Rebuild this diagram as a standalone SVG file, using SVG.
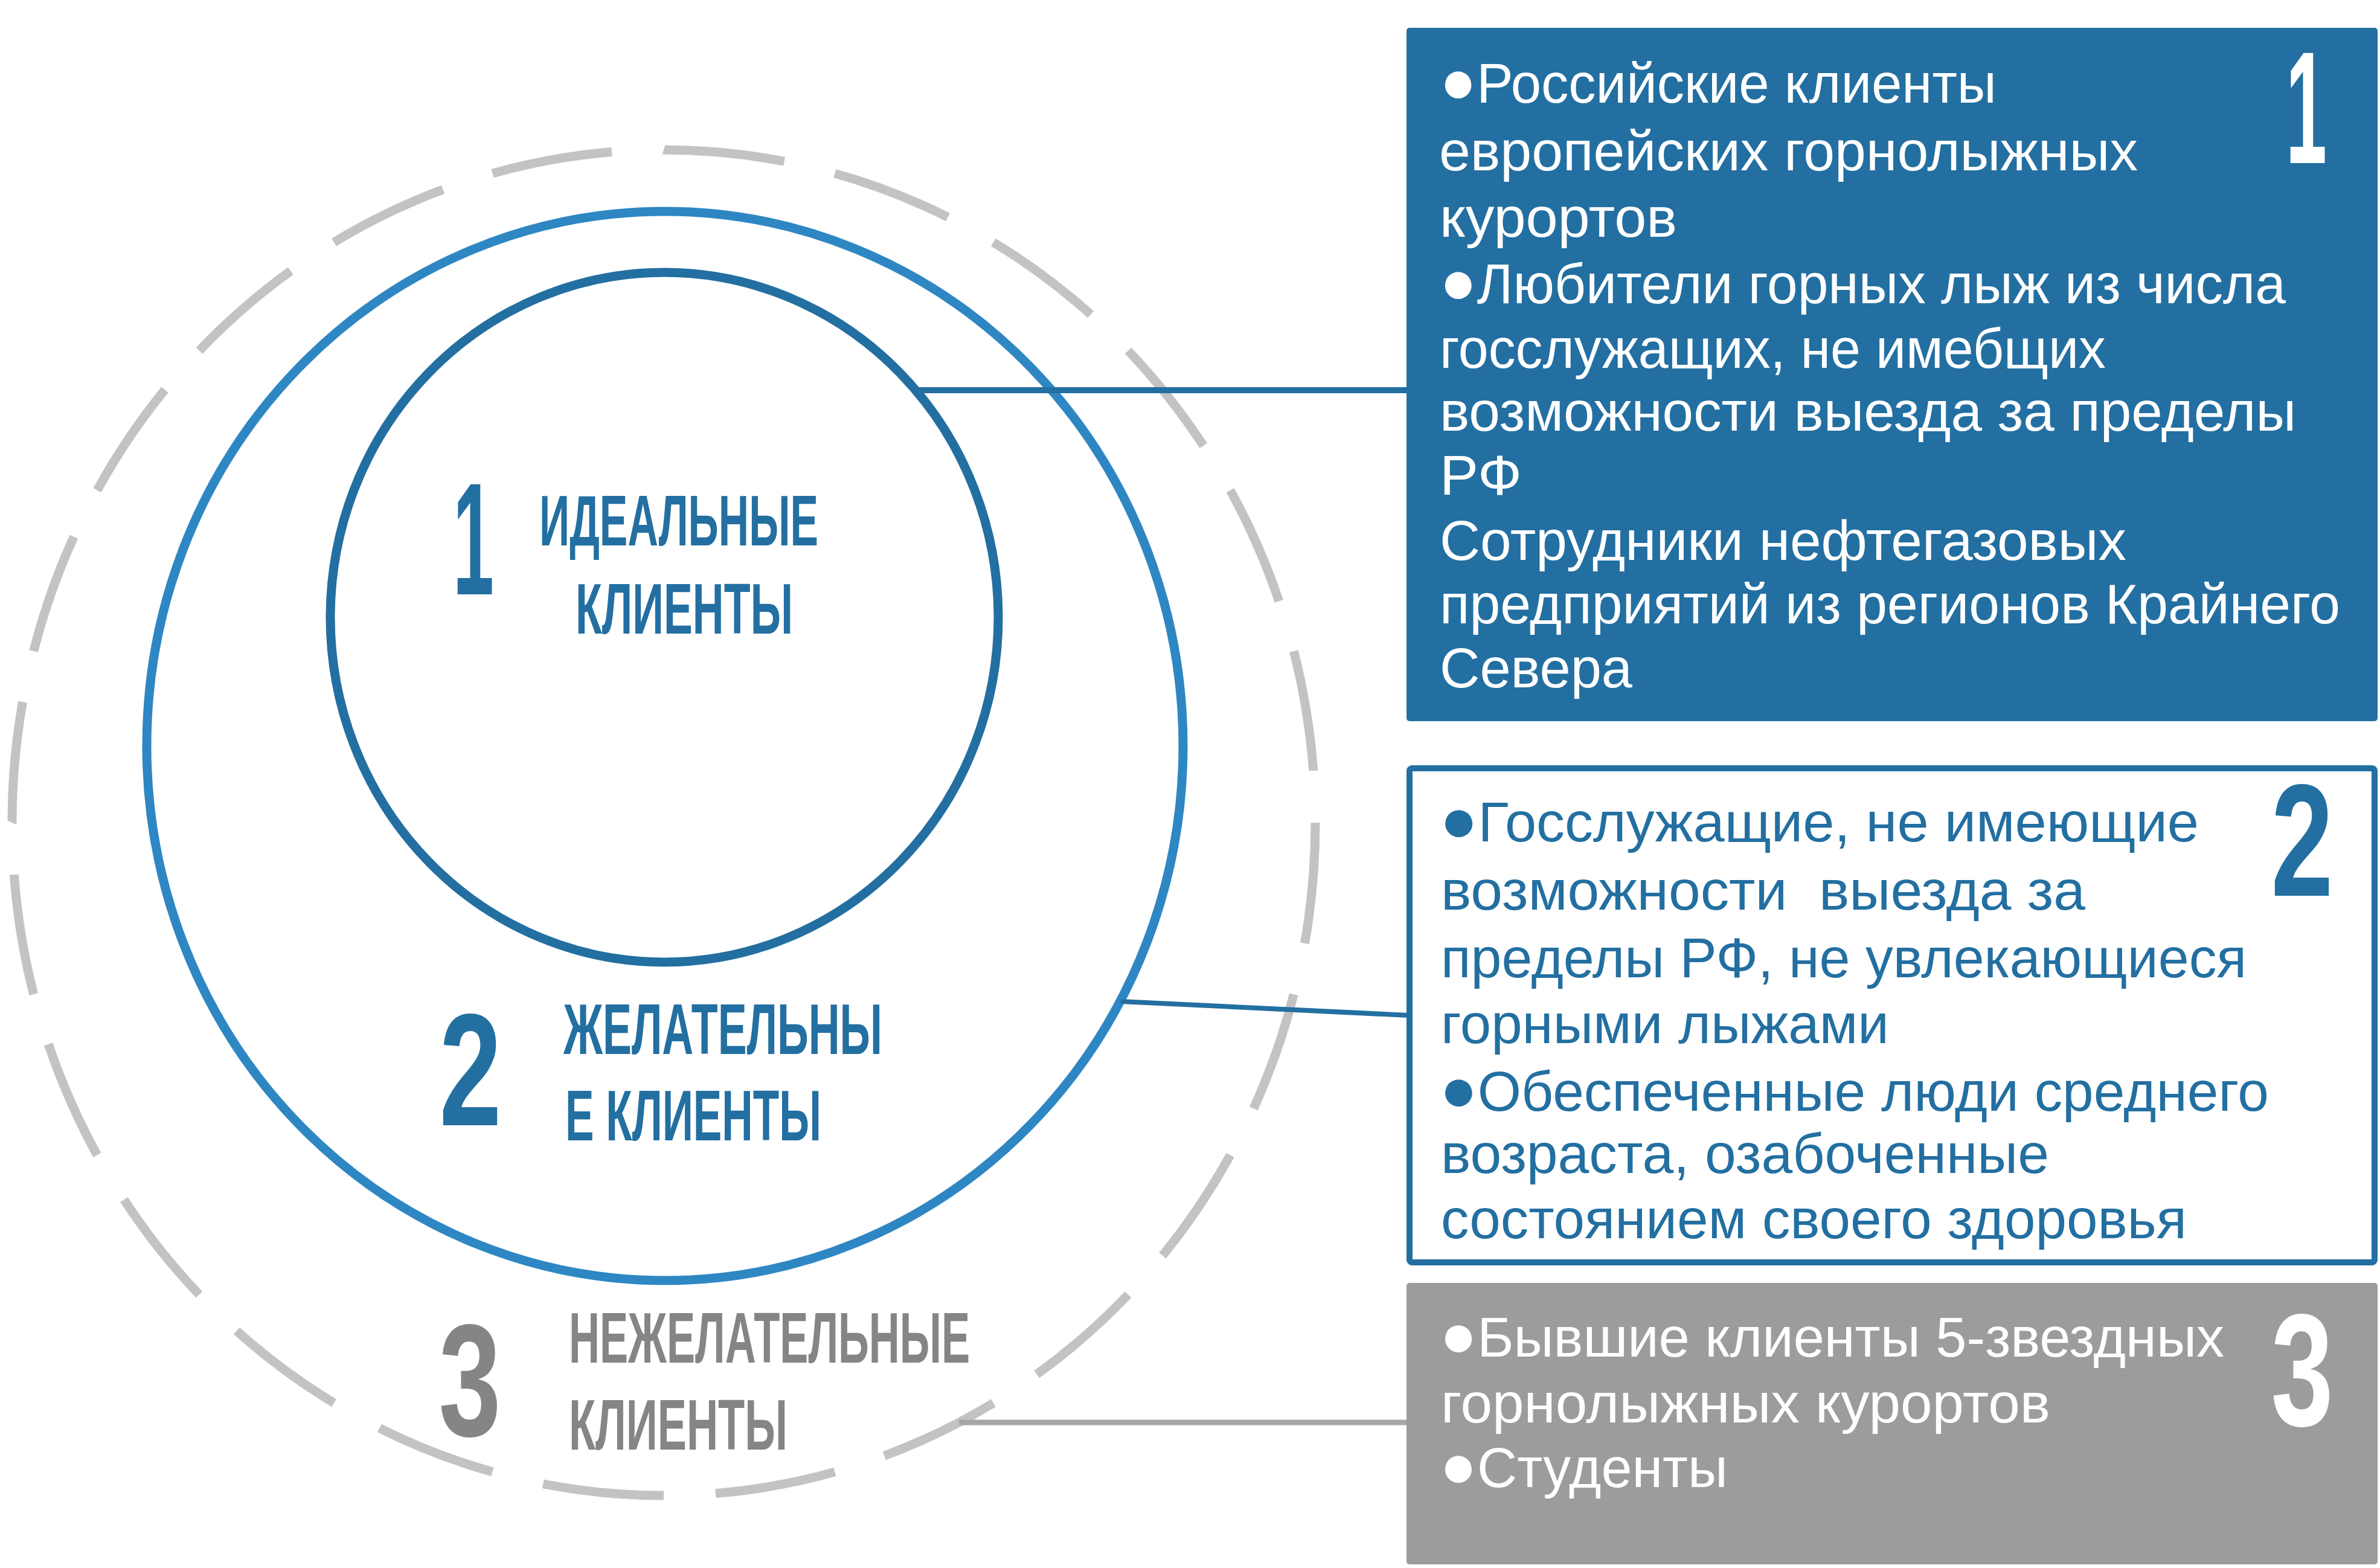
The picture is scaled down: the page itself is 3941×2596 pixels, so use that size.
<svg xmlns="http://www.w3.org/2000/svg" width="3941" height="2596" viewBox="0 0 3941 2596">
<style>
.bt{font-family:"Liberation Sans",Arial,sans-serif;font-size:93px;}
.lbl{font-family:"Liberation Sans",Arial,sans-serif;font-weight:bold;font-size:119px;}
.num{font-family:"Liberation Sans",Arial,sans-serif;font-weight:bold;font-size:265px;text-anchor:middle;}
.w{fill:#ffffff;}
.b{fill:#236fa1;}
.g{fill:#858585;}
.bul{font-size:104px;}
</style>
<rect x="0" y="0" width="3941" height="2596" fill="#ffffff"/>
<g id="ring-outer">
<path d="M1099,248 A1079,1114 0 0 1 1099,2476 A1079,1114 0 0 1 1099,248 Z" pathLength="24" fill="none" stroke="#c3c3c3" stroke-width="15" stroke-dasharray="0.7 0.3"/>
<text class="num g" transform="translate(778,2377) scale(0.7,1)">3</text>
<text class="lbl g" x="942" y="2256" textLength="664" lengthAdjust="spacingAndGlyphs">НЕЖЕЛАТЕЛЬНЫЕ</text>
<text class="lbl g" x="942" y="2400" textLength="362" lengthAdjust="spacingAndGlyphs">КЛИЕНТЫ</text>
</g>
<g id="ring-middle">
<ellipse cx="1101" cy="1235" rx="858" ry="885" fill="none" stroke="#2e87c3" stroke-width="15"/>
<text class="num b" transform="translate(779,1863) scale(0.7,1)">2</text>
<text class="lbl b" x="933" y="1745" textLength="528" lengthAdjust="spacingAndGlyphs">ЖЕЛАТЕЛЬНЫ</text>
<text class="lbl b" x="936" y="1888" textLength="424" lengthAdjust="spacingAndGlyphs">Е КЛИЕНТЫ</text>
</g>
<g id="ring-inner">
<ellipse cx="1100" cy="1022" rx="553" ry="571" fill="none" stroke="#236fa1" stroke-width="15"/>
<text class="num b" transform="translate(784,984) scale(0.46,1)">1</text>
<text class="lbl b" x="893" y="903" textLength="462" lengthAdjust="spacingAndGlyphs">ИДЕАЛЬНЫЕ</text>
<text class="lbl b" x="953" y="1049" textLength="360" lengthAdjust="spacingAndGlyphs">КЛИЕНТЫ</text>
</g>
<g id="connectors" fill="none">
<path d="M1518,646 H2332" stroke="#236fa1" stroke-width="10"/>
<path d="M1856,1658 L2332,1681" stroke="#236fa1" stroke-width="8"/>
<path d="M1588,2355 H2332" stroke="#a6a6a6" stroke-width="9"/>
</g>
<g id="box1">
<rect x="2329" y="46" width="1608" height="1148" rx="5" fill="#236fa1"/>
<text class="num w" transform="translate(3819,270) scale(0.46,1)">1</text>
<text class="bt w" x="2384" y="170" textLength="922" lengthAdjust="spacingAndGlyphs"><tspan class="bul">●</tspan>Российские клиенты</text>
<text class="bt w" x="2383" y="282" textLength="1157" lengthAdjust="spacingAndGlyphs">европейских горнолыжных</text>
<text class="bt w" x="2384" y="392" textLength="393" lengthAdjust="spacingAndGlyphs">курортов</text>
<text class="bt w" x="2384" y="502" textLength="1401" lengthAdjust="spacingAndGlyphs"><tspan class="bul">●</tspan>Любители горных лыж из числа</text>
<text class="bt w" x="2384" y="609" textLength="1103" lengthAdjust="spacingAndGlyphs">госслужащих, не имебщих</text>
<text class="bt w" x="2384" y="713" textLength="1418" lengthAdjust="spacingAndGlyphs">возможности выезда за пределы</text>
<text class="bt w" x="2384" y="819" textLength="136" lengthAdjust="spacingAndGlyphs">РФ</text>
<text class="bt w" x="2384" y="927" textLength="1137" lengthAdjust="spacingAndGlyphs">Сотрудники нефтегазовых</text>
<text class="bt w" x="2384" y="1032" textLength="1491" lengthAdjust="spacingAndGlyphs">предприятий из регионов Крайнего</text>
<text class="bt w" x="2384" y="1138" textLength="319" lengthAdjust="spacingAndGlyphs">Севера</text>
</g>
<g id="box2">
<rect x="2334" y="1272" width="1598" height="818" rx="4" fill="#ffffff" stroke="#236fa1" stroke-width="10"/>
<text class="num b" transform="translate(3812,1483) scale(0.7,1)">2</text>
<text class="bt b" x="2384" y="1393" textLength="1257" lengthAdjust="spacingAndGlyphs"><tspan class="bul">●</tspan>Госслужащие, не имеющие</text>
<text class="bt b" x="2386" y="1506" textLength="1067" lengthAdjust="spacingAndGlyphs" style="white-space:pre">возможности  выезда за</text>
<text class="bt b" x="2386" y="1618" textLength="1334" lengthAdjust="spacingAndGlyphs">пределы РФ, не увлекающиеся</text>
<text class="bt b" x="2386" y="1727" textLength="742" lengthAdjust="spacingAndGlyphs">горными лыжами</text>
<text class="bt b" x="2384" y="1839" textLength="1373" lengthAdjust="spacingAndGlyphs"><tspan class="bul">●</tspan>Обеспеченные люди среднего</text>
<text class="bt b" x="2386" y="1942" textLength="1007" lengthAdjust="spacingAndGlyphs">возраста, озабоченные</text>
<text class="bt b" x="2386" y="2050" textLength="1235" lengthAdjust="spacingAndGlyphs">состоянием своего здоровья</text>
</g>
<g id="box3">
<rect x="2329" y="2124" width="1608" height="466" rx="5" fill="#9c9c9c"/>
<text class="num w" transform="translate(3812,2360) scale(0.7,1)">3</text>
<text class="bt w" x="2384" y="2246" textLength="1299" lengthAdjust="spacingAndGlyphs"><tspan class="bul">●</tspan>Бывшие клиенты 5-звездных</text>
<text class="bt w" x="2386" y="2355" textLength="1009" lengthAdjust="spacingAndGlyphs">горнолыжных курортов</text>
<text class="bt w" x="2384" y="2462" textLength="477" lengthAdjust="spacingAndGlyphs"><tspan class="bul">●</tspan>Студенты</text>
</g>
</svg>
